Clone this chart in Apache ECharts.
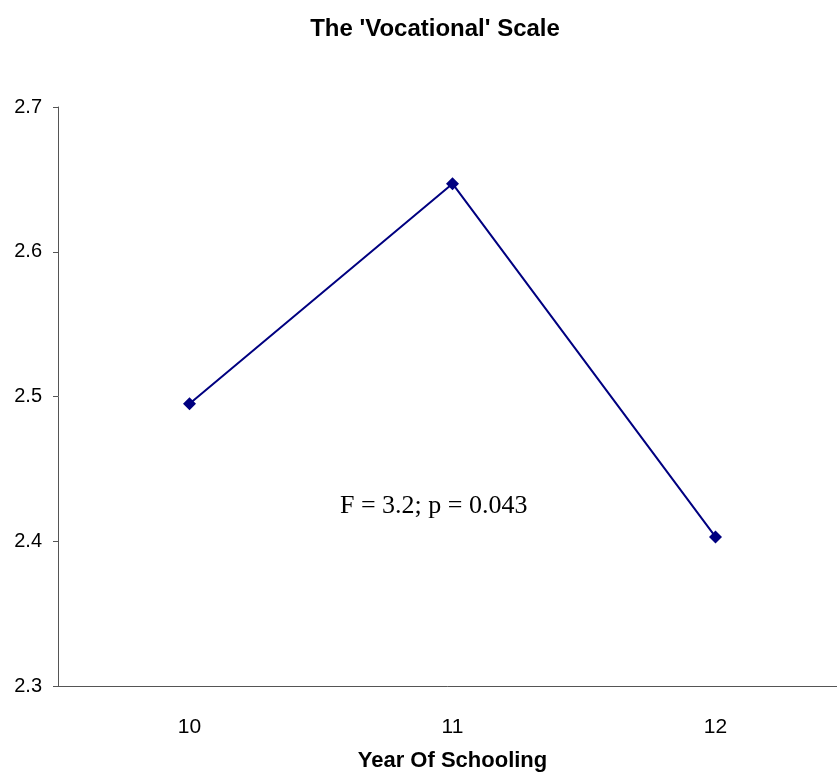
<!DOCTYPE html>
<html><head><meta charset="utf-8">
<script src="https://cdn.jsdelivr.net/npm/echarts@6/dist/echarts.min.js"></script>
<style>html,body{margin:0;padding:0;background:#fff}#c{width:837px;height:772px}</style>
</head><body><div id="c"></div>
<script>
const categories = ['10', '11', '12'];
const values = [2.495, 2.647, 2.403];
const yTicks = [2.3, 2.4, 2.5, 2.6, 2.7];
const titleText = "The 'Vocational' Scale";
const xName = 'Year Of Schooling';
const note = 'F = 3.2; p = 0.043';

const chart = echarts.init(document.getElementById('c'));
chart.setOption({
  backgroundColor: '#fff',
  animation: false,
  title: {
    text: titleText, left: 430, top: 12, textAlign: 'center',
    textStyle: { fontFamily: 'Liberation Sans, Arial', fontSize: 24, fontWeight: 'bold', color: '#000' }
  },
  grid: { left: 58, top: 107, height: 579, width: 789, containLabel: false, outerBoundsMode: 'none' },
  xAxis: {
    type: 'category', data: categories, boundaryGap: true,
    name: xName, nameLocation: 'middle', nameGap: 64,
    nameTextStyle: { fontFamily: 'Liberation Sans, Arial', fontSize: 22, fontWeight: 'bold', color: '#000' },
    axisLine: { lineStyle: { color: '#555', width: 1 } },
    axisTick: { show: false },
    axisLabel: { fontFamily: 'Liberation Sans, Arial', fontSize: 21, color: '#000', margin: 31 },
    splitLine: { show: false }
  },
  yAxis: {
    type: 'value', min: yTicks[0], max: yTicks[yTicks.length - 1], interval: 0.1,
    axisLine: { show: true, lineStyle: { color: '#555', width: 1 } },
    axisTick: { show: true, length: 5, lineStyle: { color: '#555' } },
    axisLabel: { fontFamily: 'Liberation Sans, Arial', fontSize: 20, color: '#000', margin: 16,
      formatter: v => v.toFixed(1) },
    splitLine: { show: false }
  },
  series: [{
    type: 'line', data: values,
    symbol: 'diamond', symbolSize: 13,
    lineStyle: { color: '#000080', width: 2 },
    itemStyle: { color: '#000080' }
  }],
  graphic: [{
    type: 'text', left: 340, top: 493,
    style: { text: note, font: '26px "Liberation Serif", "Times New Roman", serif', fill: '#000' }
  }]
});
</script></body></html>
